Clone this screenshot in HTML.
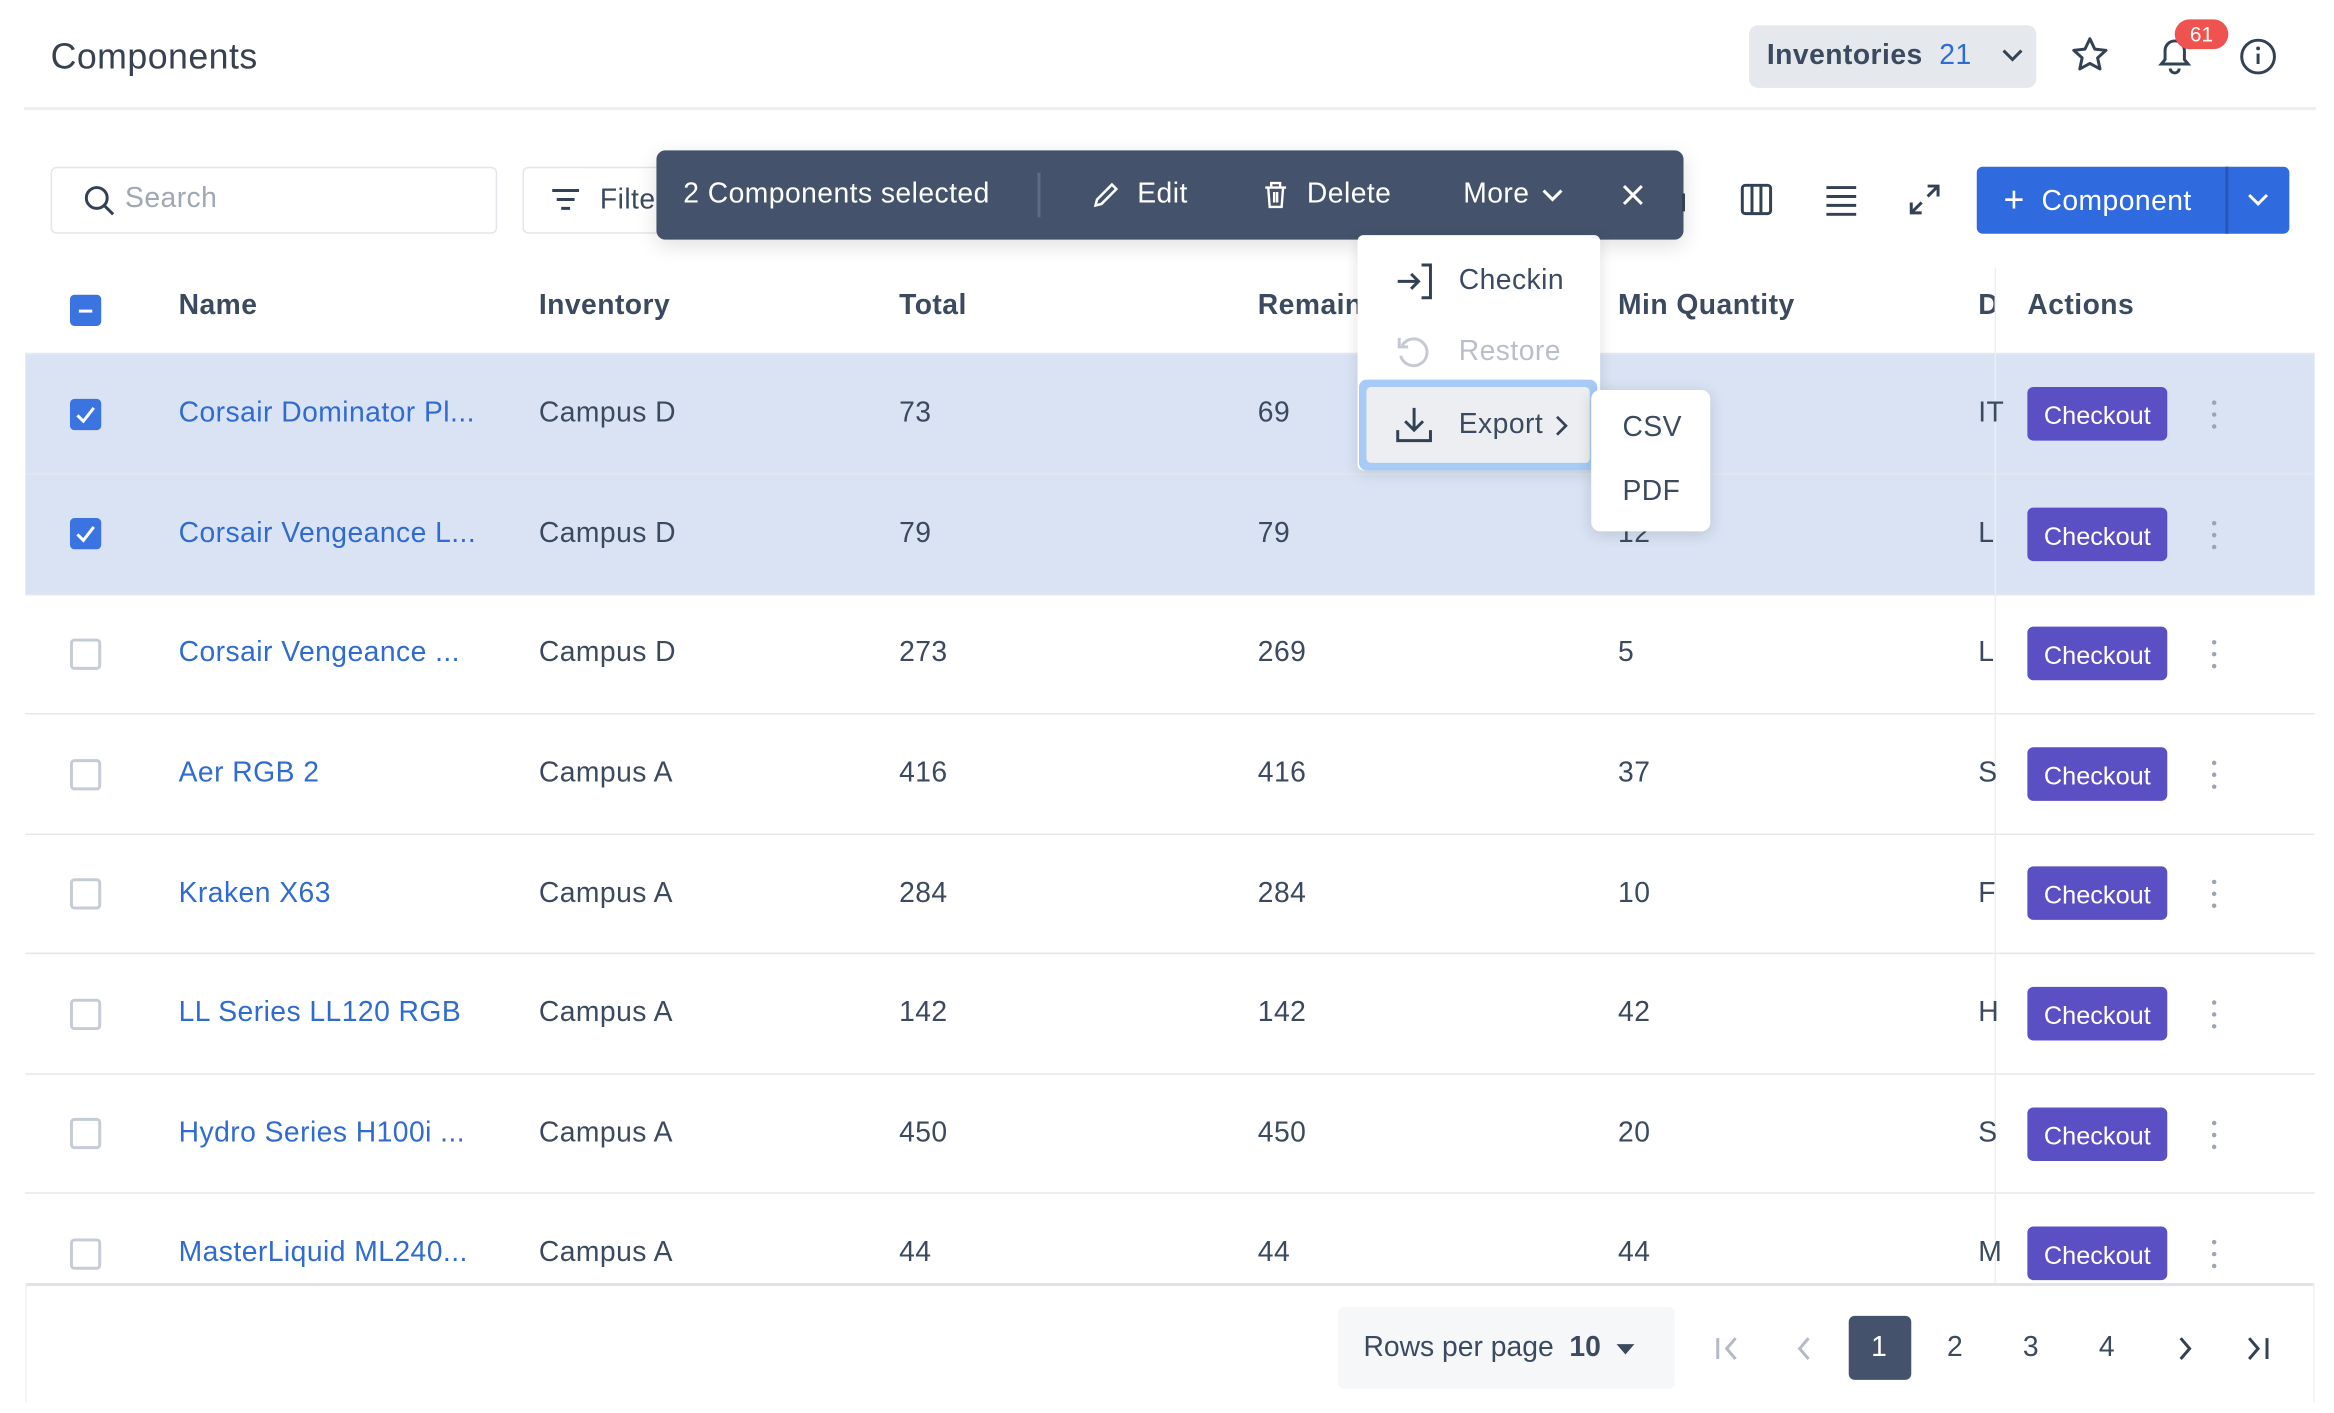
<!DOCTYPE html>
<html><head><meta charset="utf-8"><style>
html,body{margin:0;padding:0;background:#fff;width:2334px;height:1412px;overflow:hidden}
#w{position:absolute;left:0;top:0;width:1568px;height:949px;transform:scale(1.48852);transform-origin:0 0;font-family:"Liberation Sans",sans-serif;color:#3c4a60}
.a{position:absolute}
.t{position:absolute;font-size:19px;letter-spacing:0.3px;line-height:20px;white-space:nowrap}
.row{position:absolute;left:17px;width:1538px;height:80px;border-bottom:1.5px solid #e5e7eb}
.cb{position:absolute;left:48px;width:18px;height:18px;border:2px solid #c5ccd6;border-radius:3px;box-sizing:border-box;background:#fff}
.cbk{background:#3b74e0;border-color:#3b74e0}
.co{position:absolute;left:1362px;width:94px;height:36px;background:#5b4fc4;border-radius:4px;color:#fff;font-size:17px;line-height:39px;text-align:center}
.keb{position:absolute;left:1486px;width:4px}
.keb i{display:block;width:3px;height:3px;border-radius:50%;background:#9aa4b4;margin-bottom:5px}
.link{color:#2f6bd0}
</style></head><body><div id="w">
<div class="t" style="left:34px;top:26px;font-size:24px;line-height:26px;color:#374151">Components</div>
<div class="a" style="left:16px;top:72px;width:1540px;height:1.5px;background:#eceef1"></div>
<div class="a" style="left:1175px;top:17px;width:193px;height:42px;background:#e5e8ec;border-radius:6px"></div>
<div class="t" style="left:1187px;top:28px;font-weight:bold;font-size:19px">Inventories <span style="color:#2f6bd0;font-weight:normal">&nbsp;21</span></div>
<svg class="a" style="left:1344px;top:31px" width="16" height="12"><path d="M2 3l6 6 6-6" stroke="#334155" stroke-width="2" fill="none"/></svg>
<svg class="a" style="left:1391px;top:24px" width="26" height="26"><path d="M13 2l3.3 7 7.5.8-5.6 5.1 1.6 7.4L13 18.6 6.2 22.3l1.6-7.4L2.2 9.8 9.7 9z" stroke="#334155" stroke-width="2" fill="none" stroke-linejoin="round"/></svg>
<svg class="a" style="left:1447px;top:22px" width="28" height="30"><path d="M5 21h18l-2.5-3v-6a6.5 6.5 0 0 0-13 0v6z" stroke="#334155" stroke-width="2" fill="none"/><path d="M11 24a3 3 0 0 0 6 0" stroke="#334155" stroke-width="2" fill="none"/></svg>
<div class="a" style="left:1461px;top:13px;width:36px;height:20px;background:#ef5350;border-radius:10px;color:#fff;font-size:14px;line-height:20px;text-align:center">61</div>
<svg class="a" style="left:1504px;top:25px" width="26" height="26"><circle cx="13" cy="13" r="11" stroke="#334155" stroke-width="2" fill="none"/><path d="M13 11v7" stroke="#334155" stroke-width="2"/><circle cx="13" cy="7.5" r="1.3" fill="#334155"/></svg>

<div class="a" style="left:34px;top:112px;width:300px;height:45px;border:1.5px solid #e3e6ea;border-radius:4px;box-sizing:border-box"></div>
<svg class="a" style="left:56px;top:124px" width="22" height="22"><circle cx="9" cy="9" r="7" stroke="#334155" stroke-width="2" fill="none"/><path d="M14 14l6 6" stroke="#334155" stroke-width="2"/></svg>
<div class="t" style="left:84px;top:124px;color:#a0a8b5">Search</div>
<div class="a" style="left:351px;top:112px;width:120px;height:45px;border:1.5px solid #e3e6ea;border-radius:4px;box-sizing:border-box"></div>
<svg class="a" style="left:369px;top:125px" width="22" height="18"><path d="M2 3h18M5 9h12M8 15h6" stroke="#334155" stroke-width="2"/></svg>
<div class="t" style="left:403px;top:125px">Filter</div>

<div class="a" style="left:441px;top:101px;width:690px;height:60px;background:#44536b;border-radius:6px;box-shadow:0 4px 14px rgba(0,0,0,.12)"></div>
<div class="t" style="left:459px;top:121px;color:#fff">2 Components selected</div>
<div class="a" style="left:697px;top:116px;width:2px;height:30px;background:#5f6d84"></div>
<svg class="a" style="left:733px;top:121px" width="20" height="20"><path d="M3 17l1-4L14 3l3 3L7 16z" stroke="#fff" stroke-width="1.7" fill="none"/></svg>
<div class="t" style="left:764px;top:121px;color:#fff">Edit</div>
<svg class="a" style="left:848px;top:121px" width="18" height="20"><path d="M2 5h14M6 5V2h6v3M4 5l1 13h8l1-13M8 8v7M10 8v7" stroke="#fff" stroke-width="1.6" fill="none"/></svg>
<div class="t" style="left:878px;top:121px;color:#fff">Delete</div>
<div class="t" style="left:983px;top:121px;color:#fff">More</div>
<svg class="a" style="left:1035px;top:125px" width="16" height="12"><path d="M2 3l6 6 6-6" stroke="#fff" stroke-width="2" fill="none"/></svg>
<svg class="a" style="left:1088px;top:122px" width="18" height="18"><path d="M3 3l12 12M15 3L3 15" stroke="#fff" stroke-width="2"/></svg>
<div class="a" style="left:1130px;top:130px;width:2px;height:12px;background:#334155"></div>

<svg class="a" style="left:1169px;top:123px" width="22" height="22"><rect x="1.5" y="1.5" width="19" height="19" rx="2" stroke="#334155" stroke-width="2" fill="none"/><path d="M8 2v18M14 2v18" stroke="#334155" stroke-width="2"/></svg>
<svg class="a" style="left:1226px;top:123px" width="22" height="22"><path d="M1 3h20M1 9h20M1 15h20M1 21h20" stroke="#334155" stroke-width="2"/></svg>
<svg class="a" style="left:1282px;top:123px" width="22" height="22"><path d="M13 2h7v7M20 2l-7 7M9 20H2v-7M2 20l7-7" stroke="#334155" stroke-width="2" fill="none"/></svg>
<div class="a" style="left:1328px;top:112px;width:210px;height:45px;background:#2f6bdf;border-radius:4px"></div>
<div class="a" style="left:1495px;top:112px;width:1.5px;height:45px;background:#2457b8"></div>
<div class="t" style="left:1346px;top:124px;color:#fff;font-size:19px"><span style="font-size:24px;position:relative;top:1px">+</span>&nbsp; Component</div>
<svg class="a" style="left:1509px;top:128px" width="16" height="12"><path d="M2 3l6 6 6-6" stroke="#fff" stroke-width="2" fill="none"/></svg>

<div class="row" style="top:157px;height:80px"></div>
<div class="cb cbk" style="top:198px;left:47px;width:21px;height:21px"><div style="position:absolute;left:4px;top:8px;width:9px;height:2px;background:#fff"></div></div>
<div class="t" style="left:120px;top:196px;font-weight:bold">Name</div>
<div class="t" style="left:362px;top:196px;font-weight:bold">Inventory</div>
<div class="t" style="left:604px;top:196px;font-weight:bold">Total</div>
<div class="t" style="left:845px;top:196px;font-weight:bold">Remaining</div>
<div class="t" style="left:1087px;top:196px;font-weight:bold">Min Quantity</div>
<div class="t" style="left:1329px;top:196px;font-weight:bold">D</div>
<div class="a" style="left:1340px;top:180px;width:220px;height:52px;background:#fff"></div>
<div class="t" style="left:1362px;top:196px;font-weight:bold">Actions</div>

<div class="row" style="top:238px;background:#d9e3f4"></div>
<div class="row" style="top:318.5px;background:#d9e3f4"></div>
<div class="row" style="top:399px"></div>
<div class="row" style="top:479.5px"></div>
<div class="row" style="top:560px"></div>
<div class="row" style="top:640.5px"></div>
<div class="row" style="top:721px"></div>
<div class="row" style="top:801.5px;height:60px"></div>
<div class="a" style="left:1340px;top:180px;width:1px;height:682px;background:#eceef1"></div>

<div class="cb cbk" style="top:268px;left:47px;width:21px;height:21px"><svg width="17" height="17"><path d="M3 9l4 4 7-9" stroke="#fff" stroke-width="2" fill="none"/></svg></div>
<div class="cb cbk" style="top:348px;left:47px;width:21px;height:21px"><svg width="17" height="17"><path d="M3 9l4 4 7-9" stroke="#fff" stroke-width="2" fill="none"/></svg></div>
<div class="cb" style="top:429px;left:47px;width:21px;height:21px"></div>
<div class="cb" style="top:510px;left:47px;width:21px;height:21px"></div>
<div class="cb" style="top:590px;left:47px;width:21px;height:21px"></div>
<div class="cb" style="top:671px;left:47px;width:21px;height:21px"></div>
<div class="cb" style="top:751px;left:47px;width:21px;height:21px"></div>
<div class="cb" style="top:832px;left:47px;width:21px;height:21px"></div>

<div class="t link" style="left:120px;top:268px">Corsair Dominator Pl...</div>
<div class="t link" style="left:120px;top:349px">Corsair Vengeance L...</div>
<div class="t link" style="left:120px;top:429px">Corsair Vengeance ...</div>
<div class="t link" style="left:120px;top:510px">Aer RGB 2</div>
<div class="t link" style="left:120px;top:591px">Kraken X63</div>
<div class="t link" style="left:120px;top:671px">LL Series LL120 RGB</div>
<div class="t link" style="left:120px;top:752px">Hydro Series H100i ...</div>
<div class="t link" style="left:120px;top:832px">MasterLiquid ML240...</div>

<div class="t" style="left:362px;top:268px">Campus D</div><div class="t" style="left:604px;top:268px">73</div><div class="t" style="left:845px;top:268px">69</div><div class="t" style="left:1329px;top:268px">IT</div>
<div class="t" style="left:362px;top:349px">Campus D</div><div class="t" style="left:604px;top:349px">79</div><div class="t" style="left:845px;top:349px">79</div><div class="t" style="left:1087px;top:349px">12</div><div class="t" style="left:1329px;top:349px">L</div>
<div class="t" style="left:362px;top:429px">Campus D</div><div class="t" style="left:604px;top:429px">273</div><div class="t" style="left:845px;top:429px">269</div><div class="t" style="left:1087px;top:429px">5</div><div class="t" style="left:1329px;top:429px">L</div>
<div class="t" style="left:362px;top:510px">Campus A</div><div class="t" style="left:604px;top:510px">416</div><div class="t" style="left:845px;top:510px">416</div><div class="t" style="left:1087px;top:510px">37</div><div class="t" style="left:1329px;top:510px">S</div>
<div class="t" style="left:362px;top:591px">Campus A</div><div class="t" style="left:604px;top:591px">284</div><div class="t" style="left:845px;top:591px">284</div><div class="t" style="left:1087px;top:591px">10</div><div class="t" style="left:1329px;top:591px">F</div>
<div class="t" style="left:362px;top:671px">Campus A</div><div class="t" style="left:604px;top:671px">142</div><div class="t" style="left:845px;top:671px">142</div><div class="t" style="left:1087px;top:671px">42</div><div class="t" style="left:1329px;top:671px">H</div>
<div class="t" style="left:362px;top:752px">Campus A</div><div class="t" style="left:604px;top:752px">450</div><div class="t" style="left:845px;top:752px">450</div><div class="t" style="left:1087px;top:752px">20</div><div class="t" style="left:1329px;top:752px">S</div>
<div class="t" style="left:362px;top:832px">Campus A</div><div class="t" style="left:604px;top:832px">44</div><div class="t" style="left:845px;top:832px">44</div><div class="t" style="left:1087px;top:832px">44</div><div class="t" style="left:1329px;top:832px">M</div>

<div class="co" style="top:260px">Checkout</div><div class="keb" style="top:269px"><i></i><i></i><i></i></div>
<div class="co" style="top:341px">Checkout</div><div class="keb" style="top:350px"><i></i><i></i><i></i></div>
<div class="co" style="top:421px">Checkout</div><div class="keb" style="top:430px"><i></i><i></i><i></i></div>
<div class="co" style="top:502px">Checkout</div><div class="keb" style="top:511px"><i></i><i></i><i></i></div>
<div class="co" style="top:582px">Checkout</div><div class="keb" style="top:591px"><i></i><i></i><i></i></div>
<div class="co" style="top:663px">Checkout</div><div class="keb" style="top:672px"><i></i><i></i><i></i></div>
<div class="co" style="top:744px">Checkout</div><div class="keb" style="top:753px"><i></i><i></i><i></i></div>
<div class="co" style="top:824px">Checkout</div><div class="keb" style="top:833px"><i></i><i></i><i></i></div>

<div class="a" style="left:17px;top:862px;width:1538px;height:1.5px;background:#e0e3e8"></div>
<div class="a" style="left:17px;top:862px;width:1px;height:80px;background:#f0f1f3"></div>
<div class="a" style="left:1554px;top:862px;width:1px;height:80px;background:#f0f1f3"></div>
<div class="a" style="left:899px;top:878px;width:226px;height:55px;background:#f6f7f9;border-radius:4px"></div>
<div class="t" style="left:916px;top:896px;letter-spacing:0">Rows per page &nbsp;<b>10</b></div>
<svg class="a" style="left:1085px;top:900px" width="14" height="12"><path d="M1 3h12L7 10z" fill="#3c4a60"/></svg>
<svg class="a" style="left:1151px;top:896px" width="20" height="20"><path d="M3 3v14M15 3l-6 7 6 7" stroke="#b4bac4" stroke-width="2" fill="none"/></svg>
<svg class="a" style="left:1203px;top:896px" width="20" height="20"><path d="M12 3l-6 7 6 7" stroke="#b4bac4" stroke-width="2" fill="none"/></svg>
<div class="a" style="left:1242px;top:884px;width:42px;height:43px;background:#44536b;border-radius:4px"></div>
<div class="t" style="left:1257px;top:896px;color:#fff">1</div>
<div class="t" style="left:1308px;top:896px">2</div>
<div class="t" style="left:1359px;top:896px">3</div>
<div class="t" style="left:1410px;top:896px">4</div>
<svg class="a" style="left:1459px;top:896px" width="20" height="20"><path d="M6 3l6 7-6 7" stroke="#334155" stroke-width="2" fill="none"/></svg>
<svg class="a" style="left:1508px;top:896px" width="20" height="20"><path d="M3 3l6 7-6 7M15 3v14" stroke="#334155" stroke-width="2" fill="none"/></svg>

<div class="a" style="left:912px;top:158px;width:163px;height:158px;background:#fff;border-radius:4px;box-shadow:0 2px 10px rgba(0,0,0,.12)"></div>
<svg class="a" style="left:937px;top:176px" width="28" height="26"><path d="M2 13h14M11 8l5 5-5 5M18 2h6v22h-6" stroke="#334155" stroke-width="2" fill="none"/></svg>
<div class="t" style="left:980px;top:179px">Checkin</div>
<svg class="a" style="left:937px;top:224px" width="26" height="26"><path d="M5 8a9 9 0 1 1-1 7" stroke="#c5cad2" stroke-width="2" fill="none"/><path d="M3 3v6h6" stroke="#c5cad2" stroke-width="2" fill="none"/></svg>
<div class="t" style="left:980px;top:227px;color:#b9bfc9">Restore</div>
<div class="a" style="left:913px;top:255px;width:160px;height:61px;background:#a7cbf6;border-radius:5px"></div>
<div class="a" style="left:918px;top:260px;width:150px;height:51px;background:#eceef1;border-radius:3px"></div>
<svg class="a" style="left:937px;top:272px" width="26" height="26"><path d="M13 2v15M7 11l6 6 6-6M2 17v7h22v-7" stroke="#334155" stroke-width="2" fill="none"/></svg>
<div class="t" style="left:980px;top:276px">Export</div>
<svg class="a" style="left:1043px;top:278px" width="12" height="16"><path d="M3 2l6 6-6 6" stroke="#334155" stroke-width="1.8" fill="none"/></svg>
<div class="a" style="left:1069px;top:262px;width:80px;height:95px;background:#fff;border-radius:6px;box-shadow:0 2px 10px rgba(0,0,0,.14)"></div>
<div class="t" style="left:1090px;top:278px">CSV</div>
<div class="t" style="left:1090px;top:321px">PDF</div>
</div></body></html>
